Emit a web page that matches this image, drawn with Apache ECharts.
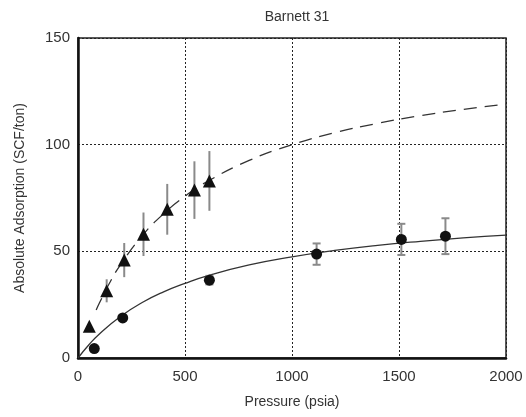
<!DOCTYPE html>
<html>
<head>
<meta charset="utf-8">
<script src="https://cdn.jsdelivr.net/npm/echarts@6/dist/echarts.min.js"></script>
<style>html,body{margin:0;padding:0;background:#fff;}#c{width:526px;height:417px;}</style>
</head>
<body>
<div id="c"></div>
<script>
// Circle series (measured)
const circP = [76, 209, 614, 1115, 1511, 1717];
const circV = [4.4, 18.8, 36.5, 48.7, 55.6, 57.1];
const circErr = [0, 0, 2, 5, 7.3, 8.4];
// Triangle series (measured)
const triP = [53, 134, 216, 306, 417, 544, 614];
const triV = [14.9, 31.5, 45.9, 58, 69.7, 78.7, 83];
const triErr = [1.5, 5.4, 8, 10.2, 11.9, 13.5, 14];
// Solid fitted curve
const solidP = [0, 50, 100, 200, 300, 400, 500, 600, 800, 1000, 1200, 1400, 1600, 1800, 2000];
const solidV = [0, 6.1, 11.3, 19.6, 26.0, 31.0, 35.0, 38.4, 43.6, 47.4, 50.4, 52.8, 54.7, 56.3, 57.6];
// Dashed fitted curve
const dashP = [85, 100, 150, 200, 300, 400, 500, 600, 800, 1000, 1200, 1400, 1600, 1800, 2000];
const dashV = [22.5, 25.8, 35.6, 43.9, 57.3, 67.6, 75.8, 82.5, 92.6, 100.0, 105.6, 110.0, 113.6, 116.5, 119.0];
const xTicks = [0, 500, 1000, 1500, 2000];
const yTicks = [0, 50, 100, 150];

const zip = (a, b) => a.map((v, i) => [v, b[i]]);
const errData = (p, v, e) => p.map((x, i) => [x, v[i] - e[i], v[i] + e[i]]);

function errRender(capW) {
  return function (params, api) {
    const x = api.value(0);
    const lo = api.coord([x, api.value(1)]);
    const hi = api.coord([x, api.value(2)]);
    const style = { stroke: '#8a8a8a', lineWidth: 2 };
    const children = [{ type: 'line', shape: { x1: lo[0], y1: lo[1], x2: hi[0], y2: hi[1] }, style: style }];
    if (capW > 0) {
      children.push({ type: 'line', shape: { x1: lo[0] - capW, y1: lo[1], x2: lo[0] + capW, y2: lo[1] }, style: style });
      children.push({ type: 'line', shape: { x1: hi[0] - capW, y1: hi[1], x2: hi[0] + capW, y2: hi[1] }, style: style });
    }
    return { type: 'group', children: children };
  };
}

const chart = echarts.init(document.getElementById('c'), null, { renderer: 'canvas' });
const font = 'Liberation Sans, Arial, sans-serif';
chart.setOption({
  animation: false,
  title: { text: 'Barnett 31', left: 292, top: 5, textAlign: 'center',
    textStyle: { fontFamily: font, fontSize: 14, fontWeight: 'normal', color: '#333' } },
  grid: { left: 78, right: 20, top: 38, bottom: 59, show: true, borderColor: '#222', borderWidth: 1.5 },
  xAxis: {
    type: 'value', min: 0, max: 2000, interval: 500,
    name: 'Pressure (psia)', nameLocation: 'middle', nameGap: 37,
    nameTextStyle: { fontFamily: font, fontSize: 14, color: '#333' },
    axisLine: { lineStyle: { color: '#111', width: 2.5 } },
    axisTick: { show: false },
    axisLabel: { fontFamily: font, fontSize: 15, color: '#333', margin: 11,
      formatter: v => xTicks.includes(v) ? String(v) : '' },
    splitLine: { show: true, lineStyle: { type: [2, 2], color: '#222', width: 1 } }
  },
  yAxis: {
    type: 'value', min: 0, max: 150, interval: 50,
    name: 'Absolute Adsorption (SCF/ton)', nameLocation: 'middle', nameGap: 51,
    nameTextStyle: { fontFamily: font, fontSize: 14, color: '#333' },
    axisLine: { show: true, lineStyle: { color: '#111', width: 2.5 } },
    axisTick: { show: false },
    axisLabel: { fontFamily: font, fontSize: 15, color: '#333', margin: 8,
      formatter: v => yTicks.includes(v) ? String(v) : '' },
    splitLine: { show: true, lineStyle: { type: [2, 2], color: '#222', width: 1 } }
  },
  series: [
    { type: 'line', data: zip(solidP, solidV), smooth: true, showSymbol: false,
      lineStyle: { color: '#333', width: 1.3 }, z: 3 },
    { type: 'line', data: zip(dashP, dashV), smooth: true, showSymbol: false,
      lineStyle: { color: '#333', width: 1.3, type: [13, 8] }, z: 3 },
    { type: 'custom', data: errData(circP, circV, circErr), renderItem: errRender(4), z: 4 },
    { type: 'custom', data: errData(triP, triV, triErr), renderItem: errRender(0), z: 4 },
    { type: 'scatter', data: zip(circP, circV), symbol: 'circle', symbolSize: 11,
      itemStyle: { color: '#111', opacity: 1 }, z: 5 },
    { type: 'scatter', data: zip(triP, triV), symbol: 'triangle', symbolSize: 13,
      itemStyle: { color: '#111', opacity: 1 }, z: 5 }
  ]
});
</script>
</body>
</html>
